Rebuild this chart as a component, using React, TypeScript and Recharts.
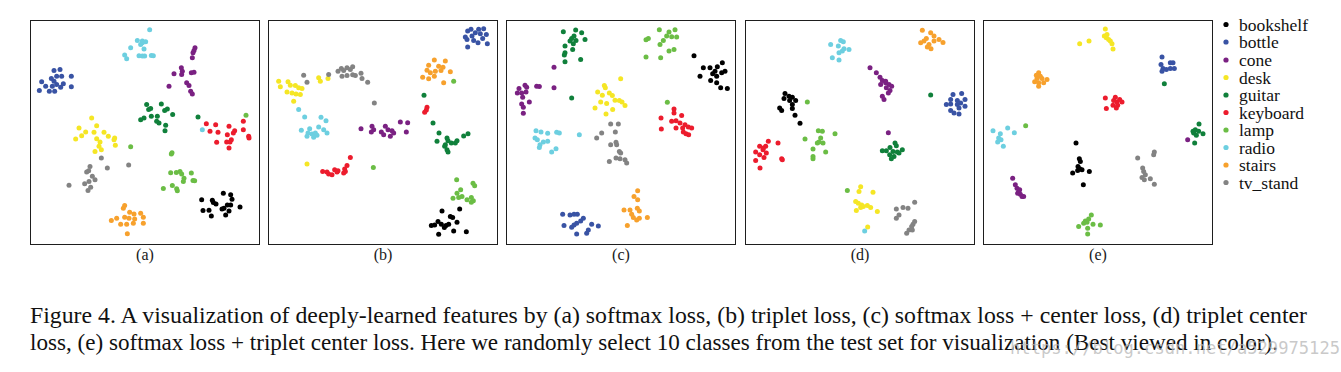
import React from "react";
import { ScatterChart, Scatter, XAxis, YAxis } from "recharts";

type Pt = number[];

const CLASSES = ["bookshelf", "bottle", "cone", "desk", "guitar", "keyboard", "lamp", "radio", "stairs", "tv_stand"];
const COLORS: Record<string, string> = {
  bookshelf: "#000000",
  bottle: "#3953a4",
  cone: "#7a2182",
  desk: "#f5e625",
  guitar: "#10803b",
  keyboard: "#ec1c2d",
  lamp: "#6bbd45",
  radio: "#6dcfe0",
  stairs: "#f7a12d",
  tv_stand: "#838383",
};
const PANEL_LABELS = ["(a)", "(b)", "(c)", "(d)", "(e)"];

// ---------- Panel (a): softmax loss ----------
const A_bookshelf: Pt[] = [[588,535],[610,540],[614,553],[523,555],[555,556],[566,567],[558,563],[600,570],[590,580],[605,588],[527,587],[545,586],[584,582],[638,576],[552,603],[595,600],[610,570]];
const A_bottle: Pt[] = [[80,168],[98,165],[88,185],[103,185],[132,185],[72,192],[80,200],[43,202],[88,210],[108,208],[132,217],[55,215],[75,215],[100,218],[36,228],[66,230],[82,230]];
const A_cone: Pt[] = [[503,100],[500,108],[497,115],[495,130],[462,160],[465,170],[463,180],[440,178],[492,175],[500,173],[478,205],[485,213],[490,230],[495,238],[425,215]];
const A_desk: Pt[] = [[193,310],[208,333],[155,340],[175,352],[200,353],[230,353],[163,363],[145,373],[243,365],[208,372],[262,370],[260,375],[218,382],[215,395],[203,410],[264,392],[222,405]];
const A_guitar: Pt[] = [[358,270],[370,282],[402,268],[420,283],[412,288],[436,300],[350,310],[340,315],[372,305],[390,305],[388,320],[395,325],[415,332],[413,348],[364,285],[512,307]];
const A_keyboard: Pt[] = [[537,327],[565,330],[605,335],[648,320],[548,350],[572,353],[622,348],[648,345],[600,360],[664,365],[665,370],[612,375],[598,382],[568,383],[608,382],[605,400],[618,355]];
const A_lamp: Pt[] = [[430,474],[447,473],[458,470],[463,478],[470,490],[468,500],[492,475],[497,497],[502,498],[435,512],[448,522],[450,528],[408,521],[656,302],[310,396],[434,414],[432,418]];
const A_radio: Pt[] = [[367,46],[330,78],[345,80],[355,82],[340,90],[310,100],[350,104],[292,122],[298,133],[335,124],[345,125],[352,125],[372,123],[378,124],[345,85],[525,345]];
const A_stairs: Pt[] = [[292,572],[288,580],[307,592],[320,597],[340,595],[268,610],[292,607],[348,607],[252,617],[305,610],[322,612],[280,628],[298,628],[318,625],[348,625],[300,656]];
const A_tv_stand: Pt[] = [[222,430],[240,460],[188,455],[184,468],[178,472],[195,484],[203,495],[185,500],[172,507],[190,517],[182,527],[125,511],[304,451]];

// ---------- Panel (b): triplet loss ----------
const B_bookshelf: Pt[] = [[530,588],[583,582],[555,605],[562,608],[518,620],[508,630],[498,632],[528,628],[542,632],[550,628],[575,622],[520,658],[565,648],[603,650],[537,638]];
const B_bottle: Pt[] = [[607,50],[617,45],[640,45],[655,43],[630,55],[645,58],[600,68],[620,65],[652,72],[663,60],[605,75],[625,78],[638,85],[607,98],[666,88]];
const B_cone: Pt[] = [[287,342],[320,335],[325,345],[318,352],[360,335],[368,345],[380,348],[385,355],[348,352],[355,360],[375,365],[405,322],[427,324],[423,352]];
const B_desk: Pt[] = [[40,200],[68,202],[45,217],[75,212],[90,213],[100,220],[110,222],[65,232],[80,235],[92,238],[105,240],[160,190],[165,200],[188,192],[85,260],[125,448]];
const B_guitar: Pt[] = [[476,242],[503,325],[521,355],[515,380],[545,370],[548,378],[540,390],[558,385],[570,385],[575,378],[595,364],[608,357],[538,395],[545,405],[548,412]];
const B_keyboard: Pt[] = [[485,278],[483,286],[478,293],[255,428],[245,452],[238,463],[240,470],[218,468],[208,465],[172,470],[185,472],[190,478],[200,480],[215,472],[235,475]];
const B_lamp: Pt[] = [[324,458],[574,495],[623,505],[628,513],[586,525],[575,535],[563,550],[580,548],[590,545],[605,555],[618,548],[624,558],[618,562],[565,200]];
const B_radio: Pt[] = [[100,285],[118,307],[167,308],[182,318],[108,347],[133,342],[160,337],[175,345],[185,355],[128,355],[140,358],[150,355],[125,365],[145,368],[155,362]];
const B_stairs: Pt[] = [[507,137],[540,140],[490,152],[520,155],[533,158],[485,167],[510,170],[527,168],[495,175],[555,172],[472,188],[490,193],[507,185],[535,205]];
const B_tv_stand: Pt[] = [[228,162],[245,160],[262,157],[218,170],[235,168],[255,165],[230,185],[245,183],[262,181],[270,183],[287,176],[290,192],[307,203],[115,182],[190,180],[125,203],[327,265]];

// ---------- Panel (c): softmax loss + center loss ----------
const C_bookshelf: Pt[] = [[572,124],[657,145],[600,160],[620,160],[642,157],[635,170],[665,170],[590,185],[628,178],[640,185],[622,198],[640,205],[652,220],[672,222],[655,175]];
const C_bottle: Pt[] = [[178,598],[200,600],[212,598],[222,598],[240,610],[232,618],[220,625],[212,630],[205,637],[182,632],[265,628],[285,633],[255,645],[250,655],[220,657]];
const C_cone: Pt[] = [[152,158],[65,212],[70,218],[100,215],[108,216],[152,220],[47,222],[42,235],[55,235],[68,232],[58,248],[78,262],[55,268],[60,278],[60,296]];
const C_desk: Pt[] = [[352,193],[303,213],[306,220],[283,232],[318,235],[327,243],[297,242],[335,257],[292,262],[310,267],[348,258],[356,262],[365,273],[275,280],[328,285],[308,298]];
const C_guitar: Pt[] = [[180,52],[217,47],[235,55],[212,65],[205,72],[218,78],[245,75],[200,80],[210,88],[185,95],[208,105],[185,115],[183,122],[232,135],[185,142],[205,250]];
const C_keyboard: Pt[] = [[512,283],[512,295],[535,303],[473,310],[505,320],[518,318],[530,325],[545,330],[518,340],[474,343],[538,340],[555,337],[565,340],[540,352],[548,357],[556,360]];
const C_lamp: Pt[] = [[468,46],[515,46],[497,53],[490,65],[505,67],[520,68],[435,72],[428,76],[480,78],[470,90],[497,110],[512,105],[428,128],[472,130],[492,263]];
const C_radio: Pt[] = [[98,348],[113,352],[133,356],[160,353],[168,355],[228,360],[95,370],[102,375],[120,382],[133,380],[110,390],[108,398],[158,402],[145,412]];
const C_stairs: Pt[] = [[403,528],[392,545],[403,555],[362,585],[380,585],[402,580],[408,588],[385,598],[390,608],[400,615],[408,610],[432,608],[372,632]];
const C_tv_stand: Pt[] = [[322,328],[345,328],[295,355],[336,352],[280,370],[338,383],[322,390],[340,390],[348,410],[352,415],[338,430],[350,432],[365,435],[370,445],[318,440]];

// ---------- Panel (d): triplet center loss ----------
const D_bookshelf: Pt[] = [[128,237],[140,245],[150,248],[125,252],[142,258],[160,258],[150,270],[112,280],[118,288],[150,282],[158,302],[173,326]];
const D_bottle: Pt[] = [[632,240],[658,237],[625,255],[645,258],[668,255],[612,270],[625,268],[645,270],[668,275],[650,280],[625,288],[635,295],[650,298],[655,265]];
const D_cone: Pt[] = [[383,160],[402,175],[413,188],[420,198],[430,205],[440,210],[448,215],[415,210],[432,220],[443,228],[438,235],[420,245],[425,255],[430,200],[438,354]];
const D_desk: Pt[] = [[355,516],[350,530],[392,532],[340,560],[348,565],[358,570],[355,578],[363,575],[375,572],[385,578],[342,587],[405,590],[376,636]];
const D_guitar: Pt[] = [[458,385],[462,393],[443,398],[432,408],[420,408],[452,410],[465,412],[480,405],[442,420],[455,425],[447,432],[470,415],[565,241]];
const D_keyboard: Pt[] = [[78,380],[107,385],[52,395],[70,395],[40,412],[62,405],[52,420],[72,415],[65,428],[118,432],[120,435],[40,437],[53,460],[63,400]];
const D_lamp: Pt[] = [[228,348],[240,350],[235,370],[225,385],[230,382],[242,385],[212,403],[250,412],[212,425],[212,432],[195,262],[278,357],[188,373],[315,527]];
const D_radio: Pt[] = [[295,78],[303,82],[265,90],[288,95],[305,103],[320,105],[290,115],[300,110],[270,130],[290,137],[367,648]];
const D_stairs: Pt[] = [[540,48],[565,55],[575,65],[552,72],[535,85],[545,80],[560,90],[575,80],[590,75],[602,84],[555,98],[566,103]];
const D_tv_stand: Pt[] = [[517,562],[462,582],[482,578],[497,580],[470,600],[462,610],[517,620],[512,628],[508,635],[500,645],[493,655],[510,645]];

// ---------- Panel (e): softmax loss + triplet center loss ----------
const E_bookshelf: Pt[] = [[287,385],[297,432],[300,440],[293,455],[298,462],[305,465],[292,467],[277,475],[327,470],[309,510]];
const E_bottle: Pt[] = [[545,128],[542,150],[570,145],[578,145],[548,162],[558,165],[570,162],[582,162],[545,170]];
const E_cone: Pt[] = [[97,490],[105,510],[110,520],[115,530],[120,538],[125,545],[130,545],[112,535],[118,525],[622,375]];
const E_desk: Pt[] = [[375,44],[372,65],[378,70],[385,75],[390,80],[395,88],[398,104],[298,88],[326,80],[380,60]];
const E_guitar: Pt[] = [[656,328],[645,345],[640,355],[655,350],[668,357],[648,362],[643,385],[638,350],[552,208]];
const E_keyboard: Pt[] = [[405,248],[375,250],[400,258],[410,262],[425,262],[398,272],[412,272],[408,280],[378,282],[418,255]];
const E_lamp: Pt[] = [[333,600],[325,612],[315,618],[310,625],[320,622],[338,628],[360,630],[295,635],[322,640],[322,657],[136,333]];
const E_radio: Pt[] = [[82,340],[38,348],[60,357],[102,354],[55,370],[62,375],[52,382],[69,395]];
const E_stairs: Pt[] = [[175,175],[168,182],[180,185],[170,192],[185,192],[200,195],[163,202],[175,205],[190,205],[175,215]];
const E_tv_stand: Pt[] = [[472,430],[522,412],[520,420],[487,460],[490,470],[495,480],[485,488],[492,495],[510,492],[522,508]];

const PANELS: Pt[][][] = [
  [A_bookshelf, A_bottle, A_cone, A_desk, A_guitar, A_keyboard, A_lamp, A_radio, A_stairs, A_tv_stand],
  [B_bookshelf, B_bottle, B_cone, B_desk, B_guitar, B_keyboard, B_lamp, B_radio, B_stairs, B_tv_stand],
  [C_bookshelf, C_bottle, C_cone, C_desk, C_guitar, C_keyboard, C_lamp, C_radio, C_stairs, C_tv_stand],
  [D_bookshelf, D_bottle, D_cone, D_desk, D_guitar, D_keyboard, D_lamp, D_radio, D_stairs, D_tv_stand],
  [E_bookshelf, E_bottle, E_cone, E_desk, E_guitar, E_keyboard, E_lamp, E_radio, E_stairs, E_tv_stand],
];

const CAPTION_1 = "Figure 4. A visualization of deeply-learned features by (a) softmax loss, (b) triplet loss, (c) softmax loss + center loss, (d) triplet center";
const CAPTION_2 = "loss, (e) softmax loss + triplet center loss. Here we randomly select 10 classes from the test set for visualization (Best viewed in color).";
const WATERMARK = "https://blog.csdn.net/a529975125";

const PANEL_LEFT = [30, 268, 506, 745, 983];
const PANEL_TOP = 20;
const PANEL_W = 230;
const PANEL_H = 225;
const SERIF = "Liberation Serif";

function Dot(props: any) {
  const { cx, cy, fill } = props;
  if (cx == null || cy == null) return null;
  return <circle cx={cx} cy={cy} r={2.5} fill={fill} />;
}

function Panel({ sets, left }: { sets: Pt[][]; left: number }) {
  return (
    <div style={{ position: "absolute", left, top: PANEL_TOP, width: PANEL_W, height: PANEL_H }}>
      <ScatterChart width={PANEL_W} height={PANEL_H} margin={{ top: 0, right: 0, bottom: 0, left: 0 }}>
        <XAxis type="number" dataKey="x" domain={[8, 698]} hide allowDataOverflow />
        <YAxis type="number" dataKey="y" domain={[17, 690]} reversed hide allowDataOverflow />
        {CLASSES.map((c, i) => (
          <Scatter
            key={c}
            name={c}
            data={sets[i].map((p) => ({ x: p[0], y: p[1] }))}
            fill={COLORS[c]}
            shape={<Dot />}
            isAnimationActive={false}
          />
        ))}
      </ScatterChart>
      <div
        style={{
          position: "absolute",
          left: 0,
          top: 0,
          width: PANEL_W,
          height: PANEL_H,
          boxSizing: "border-box",
          border: "1.5px solid #1e1e1e",
          pointerEvents: "none",
        }}
      />
    </div>
  );
}

export default function App() {
  const rows = [24.5, 42, 60, 77.5, 95, 112.5, 130, 147.5, 165, 182.5];
  return (
    <div style={{ position: "absolute", left: 0, top: 0, width: 1341, height: 372, background: "#fff", overflow: "hidden", fontFamily: SERIF }}>
      {PANELS.map((sets, i) => (
        <Panel key={i} sets={sets} left={PANEL_LEFT[i]} />
      ))}
      <svg width={1341} height={372} style={{ position: "absolute", left: 0, top: 0, pointerEvents: "none" }}>
        {PANEL_LABELS.map((t, i) => (
          <text key={t} x={PANEL_LEFT[i] + PANEL_W / 2} y={260} textAnchor="middle" fontFamily={SERIF} fontSize={16} fill="#1a1a1a">
            {t}
          </text>
        ))}
        {CLASSES.map((c, i) => (
          <g key={c}>
            <circle cx={1226} cy={rows[i]} r={2.6} fill={COLORS[c]} />
            <text x={1239} y={rows[i] + 6} fontFamily={SERIF} fontSize={17.5} fill="#111">
              {c}
            </text>
          </g>
        ))}
        <text x={30} y={323} fontFamily={SERIF} fontSize={23} fill="#111" textLength={1277} lengthAdjust="spacingAndGlyphs">
          {CAPTION_1}
        </text>
        <text x={30} y={350} fontFamily={SERIF} fontSize={23} fill="#111" textLength={1248} lengthAdjust="spacingAndGlyphs">
          {CAPTION_2}
        </text>
        <text x={1010} y={354} fontFamily="DejaVu Sans Mono" fontSize={17} fill="#b8b8b8" fillOpacity={0.75} textLength={330} lengthAdjust="spacingAndGlyphs">
          {WATERMARK}
        </text>
      </svg>
    </div>
  );
}
